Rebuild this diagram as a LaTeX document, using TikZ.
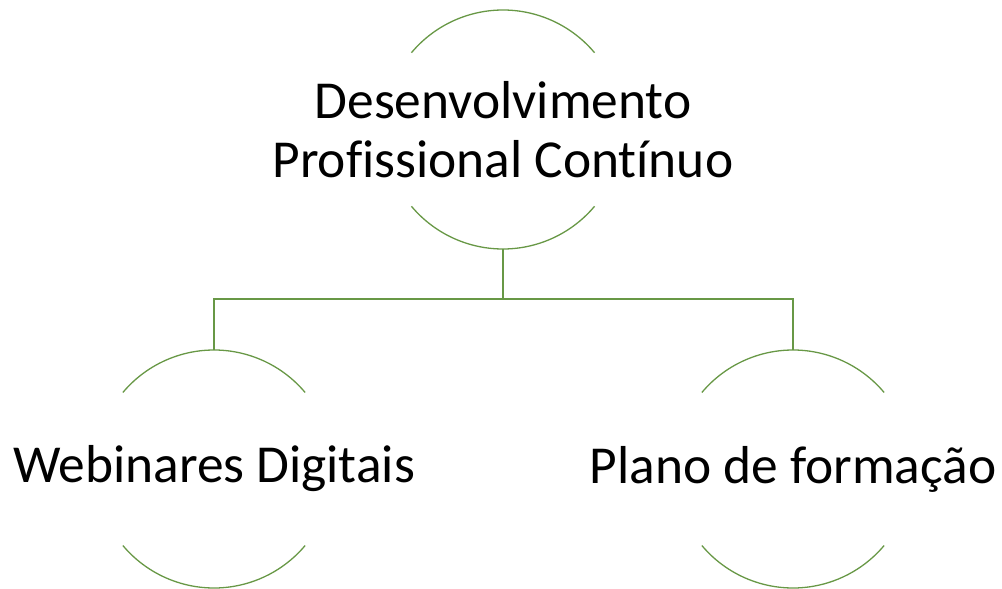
\documentclass[tikz,border=0pt]{standalone}
\usepackage{fontspec}
\setmainfont[Ligatures=CommonOff]{Carlito}
\definecolor{lineg}{RGB}{104,152,70}
\begin{document}
\begin{tikzpicture}[x=1pt,y=-1pt,
  lbl/.style={font=\fontsize{53.4}{59}\selectfont, align=center, text=black, inner sep=0pt},
  arcline/.style={draw=lineg, line width=1.3pt},
  conn/.style={draw=lineg, line width=1.3pt}]
\useasboundingbox (0,0) rectangle (1002,589);
% top circle
\coordinate (tc) at (503,129.5);
\draw[arcline] (tc) ++(140:119.5) arc[start angle=140, end angle=40, radius=119.5];
\draw[arcline] (tc) ++(220:119.5) arc[start angle=220, end angle=320, radius=119.5];
\node[lbl] (top) at (tc) {Desenvolvimento\\Profissional Contínuo};
% left circle
\coordinate (lc) at (214,469);
\draw[arcline] (lc) ++(140:119) arc[start angle=140, end angle=40, radius=119];
\draw[arcline] (lc) ++(220:119) arc[start angle=220, end angle=320, radius=119];
\node[lbl] (left) at (lc) {Webinares Digitais};
% right circle
\coordinate (rc) at (793,469);
\draw[arcline] (rc) ++(140:119) arc[start angle=140, end angle=40, radius=119];
\draw[arcline] (rc) ++(220:119) arc[start angle=220, end angle=320, radius=119];
\node[lbl] (right) at (rc) {Plano de formação};
% connectors
\coordinate (tb) at (503,249);
\coordinate (lt) at (214,350);
\coordinate (rt) at (793,350);
\draw[conn] (tb) -- (503,299) -| (lt);
\draw[conn] (503,299) -| (rt);
\end{tikzpicture}
\end{document}
